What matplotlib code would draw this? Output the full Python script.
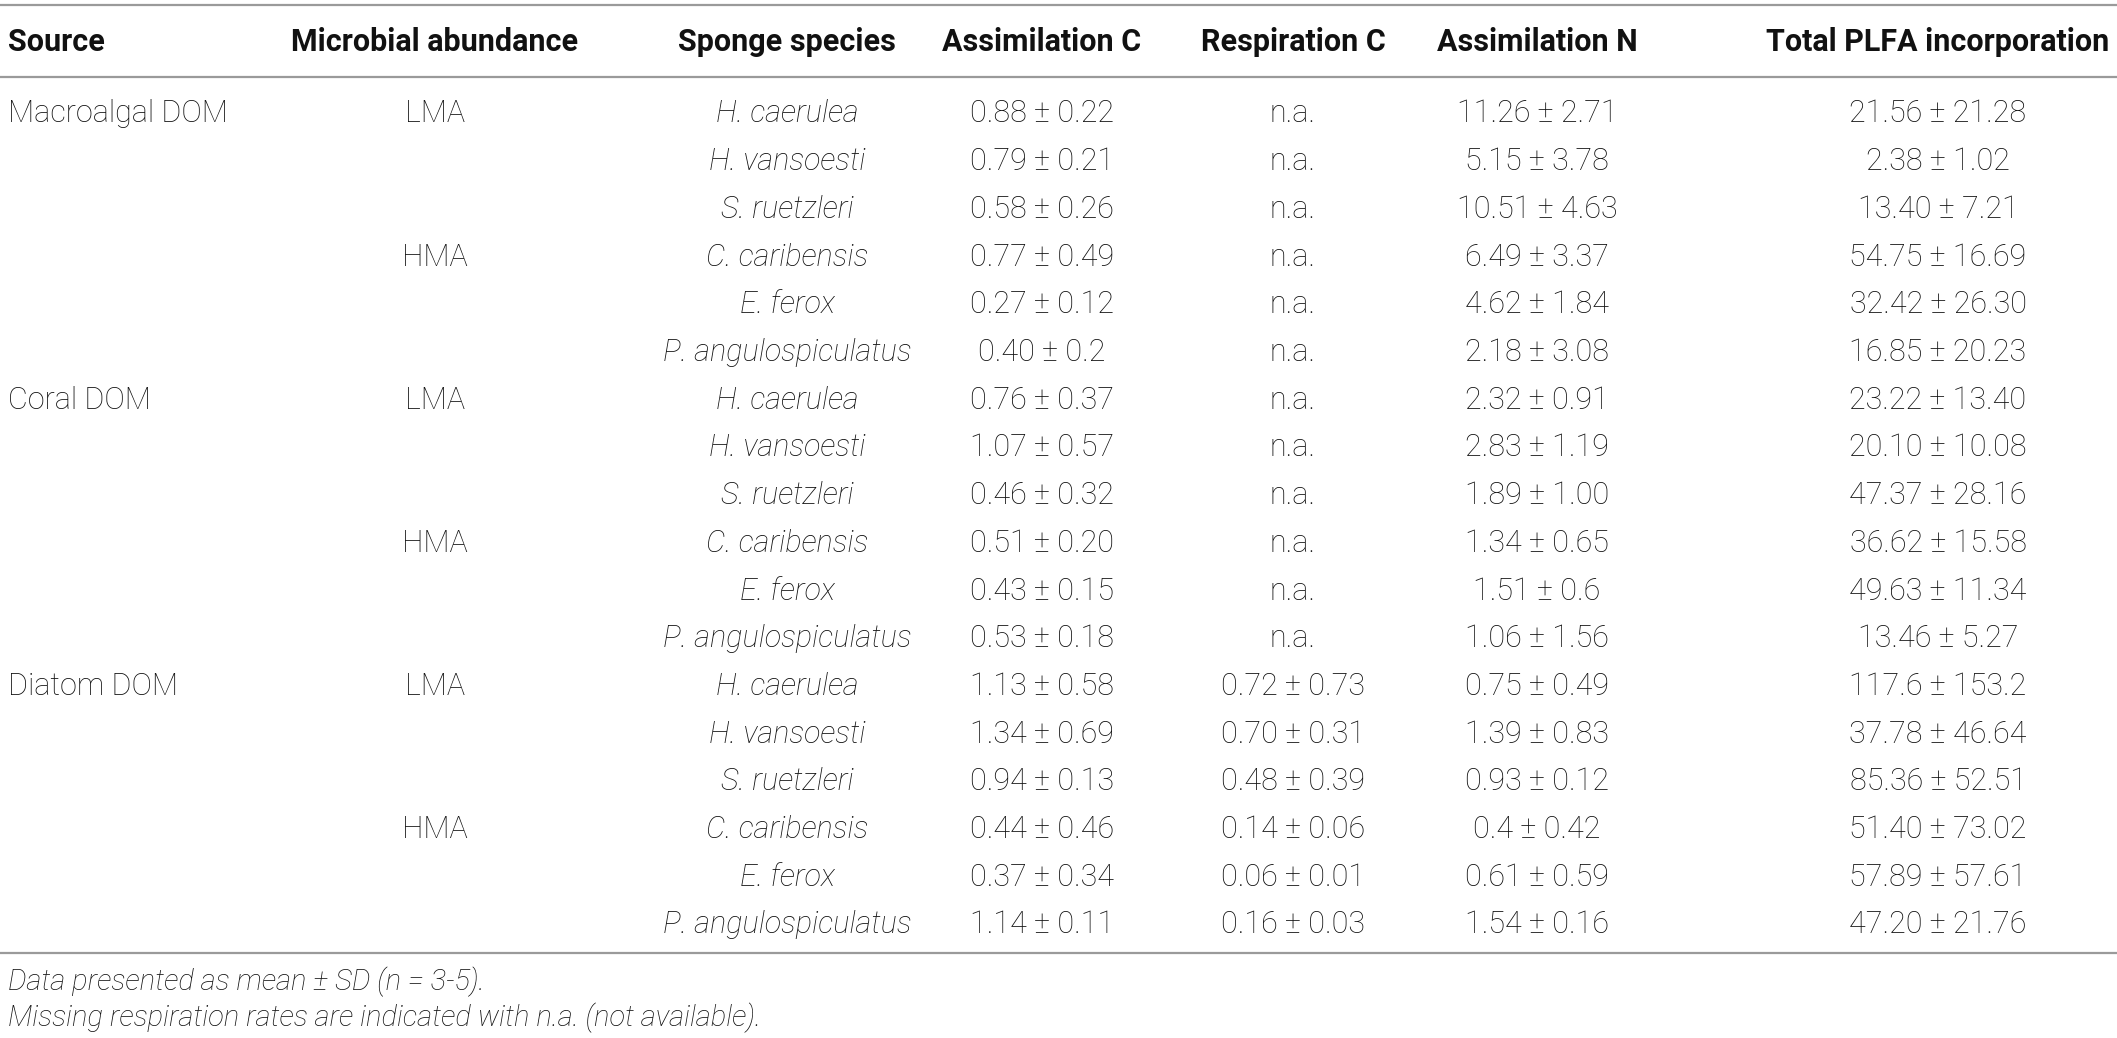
import matplotlib
matplotlib.use("Agg")
import matplotlib.pyplot as plt

# table contents
sources = ["Macroalgal DOM", "", "", "", "", "",
           "Coral DOM", "", "", "", "", "",
           "Diatom DOM", "", "", "", "", ""]
abundance = ["LMA", "", "", "HMA", "", ""] * 3
species = ["H. caerulea", "H. vansoesti", "S. ruetzleri",
           "C. caribensis", "E. ferox", "P. angulospiculatus"] * 3
assim_c = ["0.88 ± 0.22", "0.79 ± 0.21", "0.58 ± 0.26", "0.77 ± 0.49", "0.27 ± 0.12", "0.40 ± 0.2",
           "0.76 ± 0.37", "1.07 ± 0.57", "0.46 ± 0.32", "0.51 ± 0.20", "0.43 ± 0.15", "0.53 ± 0.18",
           "1.13 ± 0.58", "1.34 ± 0.69", "0.94 ± 0.13", "0.44 ± 0.46", "0.37 ± 0.34", "1.14 ± 0.11"]
resp_c = ["n.a."] * 12 + ["0.72 ± 0.73", "0.70 ± 0.31", "0.48 ± 0.39",
                          "0.14 ± 0.06", "0.06 ± 0.01", "0.16 ± 0.03"]
assim_n = ["11.26 ± 2.71", "5.15 ± 3.78", "10.51 ± 4.63", "6.49 ± 3.37", "4.62 ± 1.84", "2.18 ± 3.08",
           "2.32 ± 0.91", "2.83 ± 1.19", "1.89 ± 1.00", "1.34 ± 0.65", "1.51 ± 0.6", "1.06 ± 1.56",
           "0.75 ± 0.49", "1.39 ± 0.83", "0.93 ± 0.12", "0.4 ± 0.42", "0.61 ± 0.59", "1.54 ± 0.16"]
plfa = ["21.56 ± 21.28", "2.38 ± 1.02", "13.40 ± 7.21", "54.75 ± 16.69", "32.42 ± 26.30", "16.85 ± 20.23",
        "23.22 ± 13.40", "20.10 ± 10.08", "47.37 ± 28.16", "36.62 ± 15.58", "49.63 ± 11.34", "13.46 ± 5.27",
        "117.6 ± 153.2", "37.78 ± 46.64", "85.36 ± 52.51", "51.40 ± 73.02", "57.89 ± 57.61", "47.20 ± 21.76"]
headers = ["Source", "Microbial abundance", "Sponge species", "Assimilation C",
           "Respiration C", "Assimilation N", "Total PLFA incorporation"]
footnotes = ["Data presented as mean ± SD (n = 3-5).",
             "Missing respiration rates are indicated with n.a. (not available)."]

W, H = 2117, 1038
fig = plt.figure(figsize=(W / 100, H / 100), dpi=100)
ax = fig.add_axes([0, 0, 1, 1])
ax.set_xlim(0, W)
ax.set_ylim(H, 0)
ax.axis("off")

plt.rcParams["font.family"] = ["Roboto", "DejaVu Sans"]
fs = 22
txt_color = "#111111"
line_color = "#9a9a9a"

col_x = [8, 435, 787, 1042, 1293, 1537, 1938]
col_ha = ["left", "center", "center", "center", "center", "center", "center"]
header_y = 42
row_y0 = 114
row_dy = 47.7

for x, ha, h in zip(col_x, col_ha, headers):
    ax.text(x, header_y, h, ha=ha, va="center", fontsize=fs, fontweight="bold", color=txt_color)

columns = [sources, abundance, species, assim_c, resp_c, assim_n, plfa]
for ci, (x, ha, col) in enumerate(zip(col_x, col_ha, columns)):
    for ri, val in enumerate(col):
        if not val:
            continue
        ax.text(x, row_y0 + ri * row_dy, val, ha=ha, va="center", fontsize=fs,
                fontweight="light", color=txt_color,
                style="italic" if ci == 2 else "normal")

for y in (5, 77, 953):
    ax.plot([0, W], [y, y], color=line_color, lw=1.6, solid_capstyle="butt")

# footnotes placed by baseline
for y, note in zip((990, 1026), footnotes):
    ax.text(8, y, note, ha="left", va="baseline", fontsize=21,
            fontweight="light", style="italic", color=txt_color)

fig.savefig("out.png", dpi=100)
